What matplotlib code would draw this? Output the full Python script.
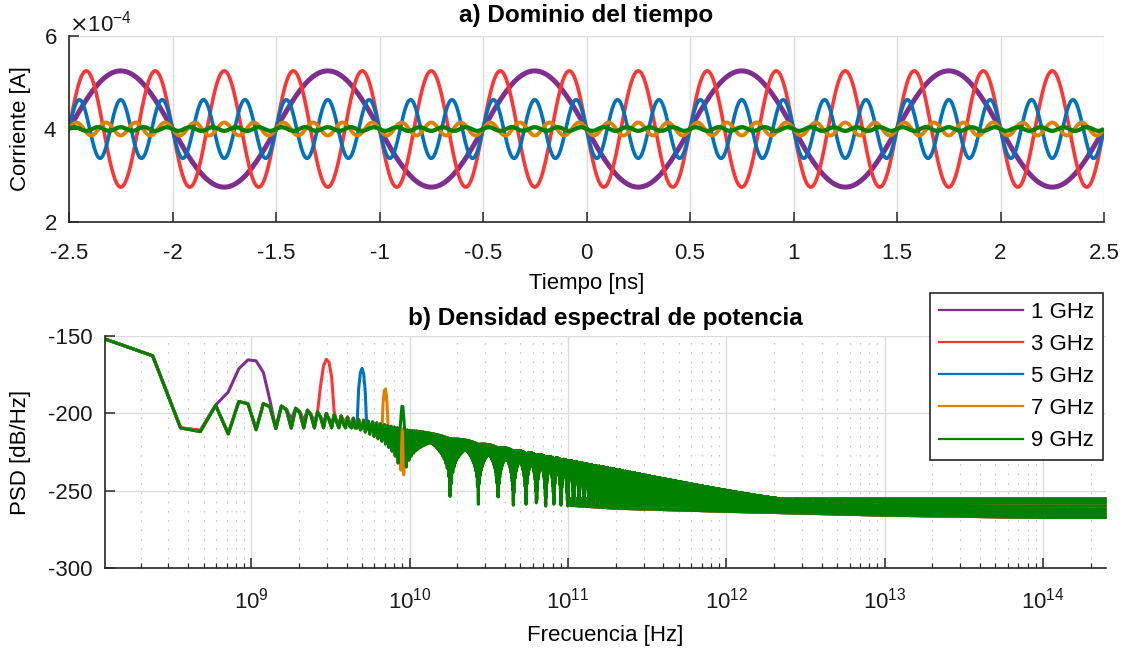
import numpy as np
import matplotlib
matplotlib.use('Agg')
import matplotlib.pyplot as plt
from matplotlib.ticker import LogLocator, NullFormatter

plt.rcParams['font.family'] = ['Liberation Sans', 'DejaVu Sans']
plt.rcParams['axes.unicode_minus'] = False
plt.rcParams['agg.path.chunksize'] = 20000

# --- data ---
labels = ['1 GHz', '3 GHz', '5 GHz', '7 GHz', '9 GHz']
freqs_ghz = [1, 3, 5, 7, 9]
amplitudes = [1.25e-4, 1.25e-4, 0.63e-4, 0.14e-4, 0.04e-4]   # A
dc_level = 4.0e-4                                            # A

# acquisition / Welch settings (Hamming, 8 segments, nfft = 2^22)
fs_hz = 5e14
record_ns = 25.0
welch_div = 4.5
nfft = 2 ** 22

# noise floor band of the PSD (dB/Hz)
floor_freq = [1.0e11, 2.0e11, 1.0e12, 1.0e13, 1.0e14, 2.5e14]
floor_upper = [-254, -254, -254, -254, -254, -254]
floor_lower = [-260, -262, -264, -266.5, -268, -268]
floor_mean_db = -260

freq_ticks = [1e9, 1e10, 1e11, 1e12, 1e13, 1e14]

colors = ['#7E2F8E', '#FF3535', '#0072BD', '#E08000', '#008000']
top_lw = [3.6, 2.6, 2.6, 2.8, 3.0]

# --- time domain ---
t_ns = np.linspace(-2.5, 2.5, 6001)
currents = []
for f0, amp in zip(freqs_ghz, amplitudes):
    currents.append(dc_level - amp * np.sin(2 * np.pi * f0 * t_ns))

# --- PSD (Hamming-windowed segment, one-sided) ---
seg = record_ns * 1e-9 / welch_div
df = fs_hz / nfft
f = np.arange(1, nfft // 2 + 1) * df


def hamming_ft(fr):
    x = fr * seg
    return seg * (0.54 * np.sinc(x) + 0.23 * (np.sinc(x - 1) + np.sinc(x + 1)))


u = (0.54 ** 2 + 0.46 ** 2 / 2) * seg
w_dc = (dc_level * hamming_ft(f)) ** 2


def reduce_dense(fr, y, k0=3000, nblocks=2500):
    edges = np.unique(np.geomspace(k0, len(fr) - 1, nblocks).astype(int))
    lo = np.minimum.reduceat(y, edges)
    hi = np.maximum.reduceat(y, edges)
    fd = np.repeat(fr[edges], 2)
    yd = np.empty(2 * len(lo))
    yd[0::2] = hi
    yd[1::2] = lo
    return np.concatenate([fr[:k0], fd]), np.concatenate([y[:k0], yd])


psd_db = []
for f0, amp in zip(freqs_ghz, amplitudes):
    tone = hamming_ft(f - f0 * 1e9) - hamming_ft(f + f0 * 1e9)
    p = 2 * (w_dc + (amp / 2 * tone) ** 2) / u + 10 ** (floor_mean_db / 10)
    psd_db.append(reduce_dense(f, 10 * np.log10(p)))

# --- figure ---
W, H = 1123, 651
TICK_FS = 16
LABEL_FS = 16
TITLE_FS = 17.5

fig = plt.figure(figsize=(W / 100, H / 100), dpi=100)
ax1 = fig.add_axes([69 / W, 1 - 222 / H, (1104 - 69) / W, (222 - 36) / H])
ax2 = fig.add_axes([105 / W, 1 - 568 / H, (1106 - 105) / W, (568 - 336) / H])

axc = '#262626'
for ax in (ax1, ax2):
    ax.spines['top'].set_visible(False)
    ax.spines['right'].set_visible(False)
    for s in ('left', 'bottom'):
        ax.spines[s].set_color(axc)
        ax.spines[s].set_linewidth(1.2)
    ax.set_axisbelow(True)
    ax.grid(True, which='major', color='#dcdcdc', lw=1.0)
    ax.tick_params(which='major', direction='in', length=7.5, width=1.1,
                   colors=axc, labelsize=TICK_FS, labelcolor='#1a1a1a')

# top plot
for y, c, lw in zip(currents, colors, top_lw):
    ax1.plot(t_ns, y, color=c, lw=lw, solid_capstyle='butt')
ax1.set_xlim(-2.5, 2.5)
ax1.set_ylim(2e-4, 6e-4)
ax1.set_xticks(np.arange(-2.5, 2.51, 0.5))
ax1.set_xticklabels(['-2.5', '-2', '-1.5', '-1', '-0.5', '0', '0.5', '1', '1.5', '2', '2.5'])
ax1.set_yticks([2e-4, 4e-4, 6e-4])
ax1.ticklabel_format(axis='y', style='sci', scilimits=(0, 0), useMathText=True)
ax1.yaxis.get_offset_text().set_fontsize(TICK_FS)
ax1.tick_params(axis='x', pad=15)
ax1.tick_params(axis='y', pad=8.5)
ax1.set_xlabel('Tiempo [ns]', fontsize=LABEL_FS, va='center')
ax1.xaxis.set_label_coords(0.5, -(283 - 222) / 186)
ax1.set_ylabel('Corriente [A]', fontsize=LABEL_FS, va='center')
ax1.yaxis.set_label_coords(-(69 - 21) / 1035, 0.5)
ax1.set_title('a) Dominio del tiempo', fontsize=TITLE_FS, fontweight='bold',
              va='center', y=1 + 21 / 186, pad=0)

# bottom plot
for (fx, fy), c, lab in zip(psd_db, colors, labels):
    ax2.fill_between(floor_freq, floor_lower, floor_upper, color=c, lw=0)
    ax2.plot(fx, fy, color=c, lw=2.2, label=lab)
ax2.set_xscale('log')
ax2.set_xlim(f[0], f[-1])
ax2.set_ylim(-300, -150)
ax2.set_yticks([-300, -250, -200, -150])
ax2.set_xticks(freq_ticks)
ax2.xaxis.set_minor_locator(LogLocator(base=10, subs=np.arange(2, 10), numticks=200))
ax2.xaxis.set_minor_formatter(NullFormatter())
ax2.grid(True, which='minor', axis='x', color='#b5b5b5', lw=0.8, linestyle=(0, (1.2, 7.2)))
ax2.tick_params(which='minor', direction='in', length=3.8, width=0.9, colors=axc)
ax2.tick_params(axis='x', pad=14)
ax2.tick_params(axis='y', pad=9)
ax2.set_xlabel('Frecuencia [Hz]', fontsize=LABEL_FS, va='center')
ax2.xaxis.set_label_coords(0.5, -(635 - 568) / 232)
ax2.set_ylabel('PSD [dB/Hz]', fontsize=LABEL_FS, va='center')
ax2.yaxis.set_label_coords(-(105 - 21) / 1001, 0.5)
ax2.set_title('b) Densidad espectral de potencia', fontsize=TITLE_FS, fontweight='bold',
              va='center', y=1 + 17 / 232, pad=0)

leg = ax2.legend(loc='upper right', bbox_to_anchor=(1103 / W, 1 - 293 / H),
                 bbox_transform=fig.transFigure, borderaxespad=0, fontsize=16,
                 frameon=True, fancybox=False, framealpha=1, edgecolor='#262626',
                 handlelength=3.8, handletextpad=0.35, labelspacing=0.5,
                 borderpad=0.4)
leg.get_frame().set_linewidth(1.2)
for ln in leg.get_lines():
    ln.set_linewidth(1.6)

fig.savefig('out.png', dpi=100)
